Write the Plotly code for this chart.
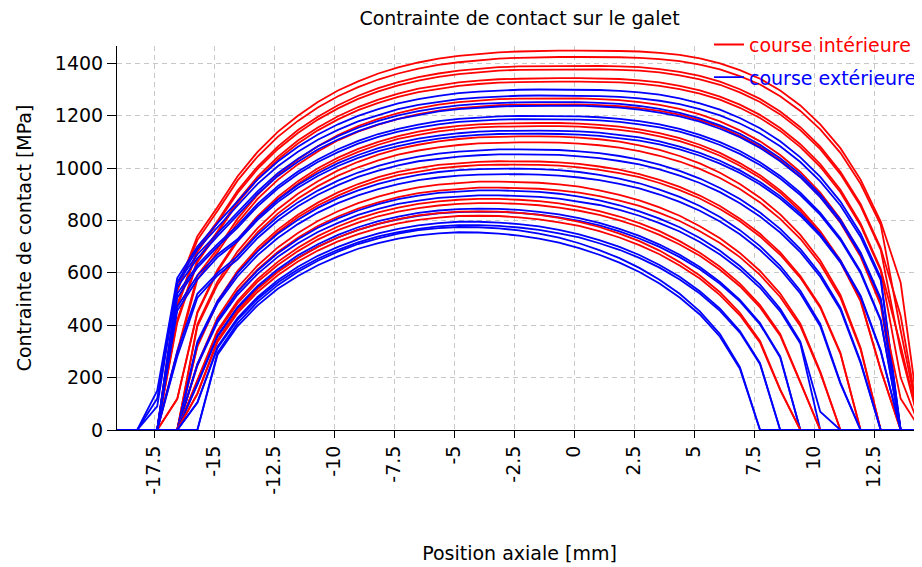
import plotly.graph_objects as go

# Axial positions of the computation slices [mm]
X_MM = [-19.05, -18.21, -17.375, -16.54, -15.70, -14.86, -14.03, -13.19, -12.35, -11.51,
        -10.68, -9.84, -9.00, -8.16, -7.33, -6.49, -5.65, -4.81, -3.98, -3.14,
        -2.30, -1.46, -0.63, 0.21, 1.05, 1.89, 2.72, 3.56, 4.40, 5.24,
        6.08, 6.91, 7.75, 8.59, 9.43, 10.26, 11.10, 11.94, 12.78, 13.61, 14.45]

X_TICKS = [-17.5, -15, -12.5, -10, -7.5, -5, -2.5, 0, 2.5, 5, 7.5, 10, 12.5]
X_TICK_TEXT = ["-17.5", "-15", "-12.5", "-10", "-7.5", "-5", "-2.5", "0", "2.5", "5", "7.5", "10", "12.5"]
Y_TICKS = [0, 200, 400, 600, 800, 1000, 1200, 1400]

# ---- course intérieure (red) contact pressure [MPa] ----
INT_01 = [0]*3 + [540, 740, 851, 968, 1062, 1138, 1200, 1252, 1296, 1331, 1361, 1384, 1403, 1418, 1428, 1436, 1442, 1445, 1447, 1448, 1448, 1448, 1447, 1445, 1440, 1432, 1419, 1400, 1374, 1341, 1296, 1239, 1167, 1076, 956, 796, 563] + [0]*1
INT_02 = [0]*3 + [530, 725, 837, 952, 1044, 1119, 1180, 1231, 1274, 1309, 1338, 1361, 1380, 1394, 1404, 1412, 1418, 1421, 1423, 1424, 1424, 1424, 1423, 1421, 1416, 1408, 1395, 1377, 1351, 1319, 1274, 1218, 1148, 1058, 940, 783, 380] + [0]*1
INT_03 = [0]*3 + [480, 690, 798, 913, 1006, 1082, 1145, 1196, 1240, 1276, 1305, 1328, 1347, 1361, 1372, 1379, 1385, 1388, 1389, 1390,
                  1390, 1390, 1388, 1385, 1378, 1367, 1352, 1330, 1301, 1264, 1216, 1156, 1082, 986, 863, 695, 436] + [0]*1
INT_04 = [0]*3 + [470, 680, 791, 904, 997, 1072, 1134, 1185, 1228, 1264, 1293, 1316, 1334, 1348, 1359, 1366, 1372, 1375, 1376, 1377,
                  1377, 1377, 1375, 1372, 1365, 1354, 1339, 1318, 1289, 1252, 1205, 1145, 1072, 977, 855, 688, 300] + [0]*1
INT_05 = [0]*3 + [420, 650, 759, 874, 967, 1043, 1105, 1155, 1198, 1233, 1261, 1284, 1303, 1316, 1327, 1334, 1339, 1341, 1343, 1343,
                  1343, 1342, 1340, 1335, 1327, 1314, 1297, 1273, 1242, 1203, 1153, 1091, 1015, 917, 789, 614, 322] + [0]*1
INT_06 = [0]*3 + [410, 640, 752, 866, 958, 1033, 1094, 1144, 1186, 1221, 1249, 1272, 1290, 1303, 1314, 1321, 1326, 1328, 1330, 1330,
                  1330, 1329, 1327, 1322, 1314, 1301, 1284, 1261, 1230, 1191, 1142, 1080, 1005, 908, 781, 608, 200] + [0]*1
INT_07 = [0]*3 + [300, 590, 692, 806, 898, 973, 1033, 1083, 1126, 1160, 1188, 1210, 1228, 1242, 1252, 1258, 1263, 1265, 1266,
                  1266, 1266, 1263, 1259, 1252, 1241, 1226, 1205, 1178, 1144, 1102, 1050, 985, 906, 806, 674, 486, 120] + [0]*1
INT_08 = [0]*3 + [290, 575, 679, 791, 882, 955, 1014, 1063, 1106, 1139, 1166, 1188, 1206, 1219, 1229, 1235, 1240, 1242, 1243,
                  1243, 1243, 1240, 1236, 1229, 1218, 1204, 1183, 1157, 1123, 1082, 1031, 967, 890, 791, 662, 477, 0] + [0]*1
INT_09 = [0]*3 + [119, 451, 612, 727, 817, 890, 950, 999, 1040, 1073, 1100, 1122, 1139, 1152, 1161, 1167, 1170, 1172,
                  1172, 1172, 1170, 1165, 1158, 1148, 1133, 1114, 1089, 1058, 1019, 973, 915, 845, 759, 648, 496, 231] + [0]*2
INT_10 = [0]*3 + [118, 446, 606, 720, 809, 881, 940, 989, 1029, 1062, 1089, 1111, 1127, 1140, 1149, 1155, 1158, 1160,
                  1160, 1160, 1158, 1153, 1146, 1136, 1121, 1103, 1078, 1047, 1009, 963, 906, 836, 751, 641, 491, 229] + [0]*2
INT_11 = [0]*4 + [404, 567, 681, 771, 843, 902, 950, 991, 1024, 1051, 1073, 1089, 1102, 1111, 1117, 1120, 1121,
                  1121, 1120, 1116, 1110, 1101, 1087, 1069, 1046, 1018, 982, 939, 887, 823, 745, 647, 516, 314] + [0]*3
INT_12 = [0]*4 + [396, 555, 667, 755, 826, 884, 931, 971, 1003, 1029, 1051, 1067, 1079, 1088, 1094, 1097, 1098,
                  1098, 1097, 1093, 1087, 1078, 1065, 1047, 1025, 997, 962, 920, 869, 806, 730, 634, 505, 308] + [0]*3
INT_13 = [0]*4 + [322, 493, 607, 695, 765, 822, 868, 907, 939, 965, 985, 1000, 1012, 1019, 1024, 1026,
                  1026, 1025, 1022, 1016, 1006, 994, 977, 955, 928, 895, 855, 807, 749, 678, 588, 473, 295] + [0]*4
INT_14 = [0]*4 + [318, 487, 599, 686, 755, 812, 857, 895, 927, 953, 973, 987, 999, 1006, 1011, 1013,
                  1013, 1012, 1009, 1003, 993, 981, 965, 943, 916, 884, 844, 797, 739, 669, 581, 467, 291] + [0]*4
INT_15 = [0]*4 + [251, 430, 543, 628, 697, 752, 798, 835, 866, 891, 911, 926, 937, 943, 948, 948,
                  947, 944, 938, 929, 915, 898, 877, 850, 818, 778, 732, 676, 607, 521, 406, 223] + [0]*5
INT_16 = [0]*4 + [245, 420, 530, 613, 680, 734, 779, 815, 845, 869, 889, 904, 914, 920, 925, 925,
                  924, 921, 915, 906, 893, 876, 856, 829, 798, 759, 714, 660, 592, 508, 396, 218] + [0]*5
INT_17 = [0]*4 + [191, 380, 492, 576, 642, 696, 740, 777, 807, 831, 849, 863, 873, 879, 882,
                  882, 879, 874, 865, 852, 836, 815, 790, 759, 721, 677, 623, 559, 477, 367, 184] + [0]*6
INT_18 = [0]*4 + [188, 373, 483, 566, 630, 683, 727, 763, 792, 816, 834, 847, 857, 863, 866,
                  866, 863, 858, 849, 837, 821, 800, 776, 745, 708, 665, 612, 549, 468, 360, 181] + [0]*6
INT_19 = [0]*4 + [140, 343, 455, 538, 603, 656, 699, 735, 764, 787, 805, 819, 828, 834, 835,
                  834, 829, 821, 810, 795, 775, 750, 721, 685, 641, 590, 526, 447, 340, 155] + [0]*7
INT_20 = [0]*4 + [137, 336, 446, 527, 591, 643, 685, 720, 748, 771, 789, 802, 811, 817, 818,
                  817, 812, 804, 793, 779, 759, 735, 706, 671, 628, 578, 515, 438, 333, 152] + [0]*7

# ---- course extérieure (blue) contact pressure [MPa] ----
EXT_01 = [0]*2 + [150, 580, 700, 790, 873, 957, 1025, 1081, 1128, 1167, 1199, 1225, 1247, 1263, 1276, 1286, 1292, 1296, 1299, 1300, 1300,
                  1300, 1298, 1295, 1289, 1280, 1266, 1247, 1223, 1191, 1152, 1102, 1041, 966, 872, 750, 582] + [0]*2
EXT_02 = [0]*2 + [120, 565, 690, 775, 858, 940, 1007, 1062, 1108, 1146, 1178, 1203, 1225, 1241, 1253, 1263, 1269, 1273, 1276, 1277, 1277,
                  1277, 1275, 1272, 1266, 1257, 1244, 1225, 1201, 1170, 1132, 1083, 1023, 949, 857, 737, 572] + [0]*2
EXT_03 = [0]*2 + [90, 560, 670, 750, 829, 911, 980, 1036, 1083, 1122, 1154, 1180, 1201, 1217, 1230, 1239, 1245, 1249, 1251, 1252,
                  1252, 1252, 1249, 1245, 1237, 1226, 1211, 1190, 1163, 1131, 1089, 1038, 976, 899, 803, 678, 503] + [0]*2
EXT_04 = [0]*2 + [0, 545, 655, 740, 820, 901, 969, 1024, 1071, 1109, 1141, 1167, 1188, 1203, 1216, 1225, 1231, 1235, 1237, 1238,
                  1238, 1238, 1235, 1231, 1223, 1212, 1197, 1177, 1150, 1118, 1077, 1026, 965, 889, 794, 670, 497] + [0]*2
EXT_05 = [0]*3 + [520, 630, 710, 780, 863, 931, 987, 1033, 1072, 1104, 1130, 1150, 1166, 1179, 1188, 1193, 1197, 1199, 1199,
                  1199, 1197, 1194, 1188, 1179, 1167, 1150, 1127, 1099, 1065, 1022, 970, 906, 829, 732, 605, 421] + [0]*2
EXT_06 = [0]*3 + [505, 620, 700, 772, 854, 922, 977, 1023, 1061, 1093, 1119, 1139, 1154, 1167, 1176, 1181, 1185, 1187, 1187,
                  1187, 1185, 1182, 1176, 1167, 1155, 1139, 1116, 1088, 1054, 1012, 960, 897, 821, 725, 599, 417] + [0]*2
EXT_07 = [0]*3 + [470, 590, 670, 728, 811, 879, 935, 980, 1019, 1050, 1076, 1096, 1112, 1124, 1133, 1139, 1142, 1143,
                  1143, 1142, 1140, 1135, 1127, 1117, 1102, 1082, 1058, 1028, 991, 947, 893, 827, 748, 647, 513, 303] + [0]*2
EXT_08 = [0]*3 + [455, 575, 660, 720, 802, 870, 925, 970, 1008, 1039, 1065, 1084, 1100, 1112, 1121, 1127, 1130, 1131,
                  1131, 1130, 1128, 1123, 1115, 1105, 1090, 1071, 1047, 1017, 981, 937, 884, 818, 740, 640, 508, 300] + [0]*2
EXT_09 = [0]*3 + [300, 520, 600, 663, 746, 814, 869, 914, 952, 983, 1008, 1028, 1044, 1055, 1063, 1068, 1071, 1071,
                  1071, 1069, 1064, 1057, 1046, 1032, 1013, 989, 960, 924, 882, 830, 768, 691, 596, 467, 261] + [0]*3
EXT_10 = [0]*3 + [280, 505, 590, 651, 733, 800, 854, 898, 935, 966, 990, 1010, 1026, 1036, 1044, 1049, 1052, 1052,
                  1052, 1050, 1045, 1038, 1027, 1014, 995, 971, 943, 908, 866, 815, 754, 679, 585, 459, 256] + [0]*3
EXT_11 = [0]*4 + [338, 493, 599, 682, 749, 803, 848, 885, 915, 940, 959, 974, 985, 992, 996, 998,
                  998, 996, 992, 985, 974, 960, 942, 918, 890, 855, 813, 763, 702, 627, 532, 405, 181] + [0]*4
EXT_12 = [0]*4 + [331, 483, 586, 668, 733, 786, 830, 866, 896, 920, 939, 954, 964, 971, 975, 977,
                  977, 975, 971, 964, 954, 940, 922, 899, 871, 837, 796, 747, 687, 614, 521, 396, 177] + [0]*4
EXT_13 = [0]*4 + [253, 420, 527, 609, 675, 728, 772, 808, 838, 862, 881, 895, 905, 911, 915,
                  915, 913, 909, 902, 891, 877, 858, 835, 807, 774, 733, 684, 626, 555, 463, 337, 70] + [0]*5
EXT_14 = [0]*4 + [248, 411, 516, 596, 661, 713, 756, 791, 821, 844, 863, 876, 886, 892, 896,
                  896, 894, 890, 883, 872, 859, 840, 818, 790, 758, 718, 670, 613, 543, 453, 330, 0] + [0]*5
EXT_15 = [0]*4 + [176, 361, 469, 550, 614, 667, 709, 745, 774, 797, 815, 829, 838, 843, 845,
                  844, 840, 833, 823, 809, 791, 768, 741, 708, 669, 622, 565, 497, 408, 281] + [0]*7
EXT_16 = [0]*4 + [174, 356, 463, 543, 606, 658, 700, 735, 764, 787, 804, 818, 827, 832, 834,
                  833, 829, 822, 812, 798, 781, 758, 731, 699, 660, 614, 558, 491, 403, 277] + [0]*7
EXT_17 = [0]*4 + [106, 318, 427, 508, 572, 623, 665, 699, 728, 751, 768, 781, 790, 795,
                  795, 792, 786, 777, 764, 747, 725, 699, 668, 630, 585, 530, 463, 378, 255] + [0]*8
EXT_18 = [0]*4 + [104, 313, 420, 500, 563, 613, 654, 688, 716, 739, 755, 768, 777, 782,
                  782, 779, 773, 764, 751, 735, 713, 688, 657, 620, 575, 521, 455, 372, 251] + [0]*8
EXT_19 = [0]*5 + [295, 407, 489, 553, 604, 646, 681, 710, 732, 750, 763, 771, 775, 774, 770, 762, 750, 734, 713, 687, 656, 619, 574, 520, 453, 366, 240] + [0]*9
EXT_20 = [0]*5 + [287, 396, 476, 539, 588, 629, 663, 692, 713, 731, 743, 751, 755, 754, 750, 742, 731, 715, 694, 669, 639, 603, 559, 506, 441, 356, 234] + [0]*9

INT_CURVES = [INT_01, INT_02, INT_03, INT_04, INT_05, INT_06, INT_07, INT_08, INT_09, INT_10,
              INT_11, INT_12, INT_13, INT_14, INT_15, INT_16, INT_17, INT_18, INT_19, INT_20]
EXT_CURVES = [EXT_01, EXT_02, EXT_03, EXT_04, EXT_05, EXT_06, EXT_07, EXT_08, EXT_09, EXT_10,
              EXT_11, EXT_12, EXT_13, EXT_14, EXT_15, EXT_16, EXT_17, EXT_18, EXT_19, EXT_20]

for c in INT_CURVES + EXT_CURVES:
    assert len(c) == len(X_MM), len(c)

RED = "#ff0000"
BLUE = "#0000ff"
NAME_INT = "<span style='color:#ff0000'>course intérieure</span>"
NAME_EXT = "<span style='color:#0000ff'>course extérieure</span>"

# drawing order: interleave the two races, blue last
order = [("i", 0), ("i", 1), ("i", 2), ("i", 3), ("i", 4), ("i", 5), ("e", 0), ("e", 1),
         ("i", 6), ("i", 7), ("e", 2), ("e", 3), ("e", 4), ("e", 5), ("i", 8), ("i", 9),
         ("e", 6), ("e", 7), ("i", 10), ("i", 11), ("e", 8), ("e", 9), ("i", 12), ("i", 13),
         ("e", 10), ("e", 11), ("i", 14), ("i", 15), ("e", 12), ("e", 13), ("i", 16), ("i", 17),
         ("e", 14), ("e", 15), ("i", 18), ("i", 19), ("e", 16), ("e", 17), ("e", 18), ("e", 19)]

fig = go.Figure()
shown = set()
for kind, idx in order:
    if kind == "i":
        y, col, name, grp = INT_CURVES[idx], RED, NAME_INT, "int"
    else:
        y, col, name, grp = EXT_CURVES[idx], BLUE, NAME_EXT, "ext"
    fig.add_trace(go.Scatter(
        x=X_MM, y=y, mode="lines", line=dict(color=col, width=1.8),
        name=name, legendgroup=grp, showlegend=grp not in shown, hoverinfo="skip"))
    shown.add(grp)

# the page body has an 8px margin: the figure is sized/offset to compensate
FONT = "DejaVu Sans"
fig.update_layout(
    width=914, height=559,
    margin=dict(l=109, r=0, t=38, b=137),
    paper_bgcolor="white", plot_bgcolor="white",
    font=dict(family=FONT, size=19, color="black"),
    title=dict(text="Contrainte de contact sur le galet", x=0.5, xref="paper", xanchor="center",
               y=1 - 10 / 559, yref="container", yanchor="middle", font=dict(size=19, color="black")),
    legend=dict(x=1, xanchor="right", y=1.053, yanchor="top", bgcolor="rgba(0,0,0,0)",
                font=dict(size=19), traceorder="grouped", tracegroupgap=5, itemwidth=30,
                borderwidth=0),
    showlegend=True,
)
fig.update_xaxes(
    range=[-19.05, 14.5], tickvals=X_TICKS, ticktext=X_TICK_TEXT, tickangle=-90,
    ticks="outside", ticklen=7, tickcolor="black", tickwidth=1,
    showline=True, linecolor="black", linewidth=1, layer="below traces",
    showgrid=True, gridcolor="#c8c8c8", griddash="5px,4px", gridwidth=1, zeroline=False,
    tickfont=dict(size=19), automargin=False,
    title=dict(text="Position axiale [mm]", standoff=52, font=dict(size=19)),
)
fig.update_yaxes(
    range=[0, 1466], tickvals=Y_TICKS, ticks="outside", ticklen=9, tickcolor="black", tickwidth=1,
    showline=True, linecolor="black", linewidth=1, layer="below traces",
    showgrid=True, gridcolor="#c8c8c8", griddash="5px,4px", gridwidth=1, zeroline=False,
    tickfont=dict(size=19), automargin=False,
    title=dict(text="Contrainte de contact [MPa]", standoff=18, font=dict(size=19)),
)

fig.write_html("out.html")
